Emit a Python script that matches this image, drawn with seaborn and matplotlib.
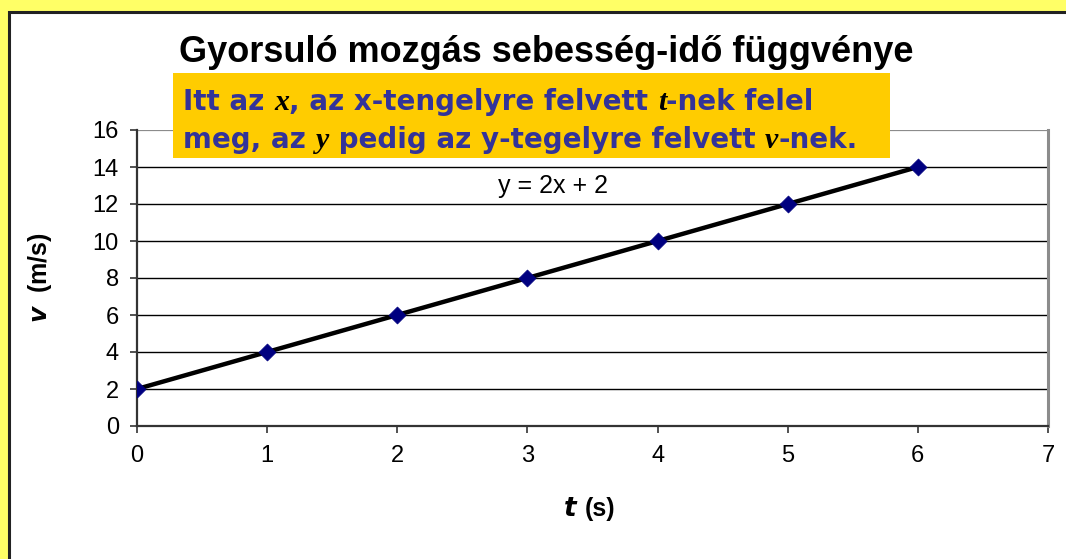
import numpy as np
import pandas as pd
import matplotlib
matplotlib.use("Agg")
import matplotlib.pyplot as plt
from matplotlib.patches import Rectangle
import seaborn as sns

# Measured time and velocity values
t_values = [0, 1, 2, 3, 4, 5, 6]
v_values = [2, 4, 6, 8, 10, 12, 14]
x_ticks = [0, 1, 2, 3, 4, 5, 6, 7]
y_ticks = [0, 2, 4, 6, 8, 10, 12, 14, 16]

title_text = "Gyorsuló mozgás sebesség-idő függvénye"
note_line1 = ["Itt az ", "x", ", az x-tengelyre felvett ", "t", "-nek felel"]
note_line2 = ["meg, az ", "y", " pedig az y-tegelyre felvett ", "v", "-nek."]

sns.set_style("white")
plt.rcParams["font.family"] = ["Liberation Sans", "DejaVu Sans"]
plt.rcParams["text.color"] = "black"
plt.rcParams["xtick.labelcolor"] = "black"
plt.rcParams["ytick.labelcolor"] = "black"

W, H = 1066, 559

df = pd.DataFrame({"t": t_values, "v": v_values})

# Linear trend line through the measurements
slope, intercept = np.polyfit(df["t"], df["v"], 1)
trend = pd.DataFrame({"t": [df["t"].min(), df["t"].max()]})
trend["v"] = slope * trend["t"] + intercept

fig = plt.figure(figsize=(W / 100, H / 100), dpi=100)
fig.patch.set_facecolor("#FFFF66")

# White chart panel with a dark frame
panel = Rectangle((9 / W, -0.05), 1.2, 1 - 12 / H + 0.05,
                  transform=fig.transFigure, facecolor="white",
                  edgecolor="#222222", linewidth=2.2, zorder=-10)
fig.patches.append(panel)

ax = fig.add_axes([137 / W, 1 - 426 / H, (1048 - 137) / W, (426 - 130) / H])
ax.patch.set_alpha(0)

for yv in y_ticks[1:-1]:
    ax.axhline(yv, color="black", linewidth=1.0, zorder=1)
ax.axhline(y_ticks[-1], color="#8c8c8c", linewidth=1.6, zorder=1)

sns.lineplot(data=trend, x="t", y="v", ax=ax, color="black", linewidth=3.2, zorder=3)
sns.scatterplot(data=df, x="t", y="v", ax=ax, marker="D", s=75, color="#000080",
                edgecolor="#000080", linewidth=0.5, zorder=4)

ax.set_xlim(x_ticks[0], x_ticks[-1])
ax.set_ylim(y_ticks[0], y_ticks[-1])
ax.set_xticks(x_ticks)
ax.set_yticks(y_ticks)
ax.tick_params(axis="both", direction="out", length=5, width=1.2, color="#333333",
               labelsize=17, labelcolor="black", left=True, bottom=True)
ax.tick_params(axis="y", pad=8)
ax.tick_params(axis="x", pad=9)

for side in ["left", "bottom"]:
    ax.spines[side].set_color("#333333")
    ax.spines[side].set_linewidth(1.6)
ax.spines["right"].set_color("#8c8c8c")
ax.spines["right"].set_linewidth(2.2)
ax.spines["top"].set_visible(False)

ax.set_xlabel("")
ax.set_ylabel("")

# Axis titles with italic quantity symbols
fig.text(578 / W, 1 - 509 / H, "$\\boldsymbol{t}$", fontsize=19, ha="right", va="center",
         color="black")
fig.text(585 / W, 1 - 509 / H, "(s)", fontsize=18, ha="left", va="center", fontweight="bold")
fig.text(40 / W, 1 - 278 / H, "$\\boldsymbol{v}$  (m/s)", fontsize=18, ha="center",
         va="center", fontweight="bold", rotation=90)

# Trend line equation
fig.text(553 / W, 1 - 186 / H, f"y = {slope:.0f}x + {intercept:.0f}", fontsize=18,
         ha="center", va="center")

# Title
fig.text(546 / W, 1 - 53 / H, title_text, fontsize=26, fontweight="bold",
         ha="center", va="center", color="black")

# Orange explanation box
box = Rectangle((173 / W, 1 - 158 / H), 717 / W, 85 / H,
                transform=fig.transFigure, facecolor="#FFCC00", edgecolor="none", zorder=5)
fig.patches.append(box)

renderer = fig.canvas.get_renderer()


def chain(parts, x0_px, baseline_px):
    """Write text pieces one after another on a common baseline."""
    x = x0_px
    for i, part in enumerate(parts):
        if i % 2 == 1:
            kw = dict(family="Liberation Serif", style="italic", fontweight="bold",
                      color="black", fontsize=21.5)
        else:
            kw = dict(family="DejaVu Sans", fontweight="bold", color="#333399", fontsize=20)
        txt = fig.text(x / W, 1 - baseline_px / H, part, ha="left", va="baseline",
                       zorder=6, **kw)
        ext = txt.get_window_extent(renderer)
        x = ext.x1


chain(note_line1, 183, 110)
chain(note_line2, 183, 148)

fig.savefig("out.png", dpi=100, facecolor=fig.get_facecolor())
